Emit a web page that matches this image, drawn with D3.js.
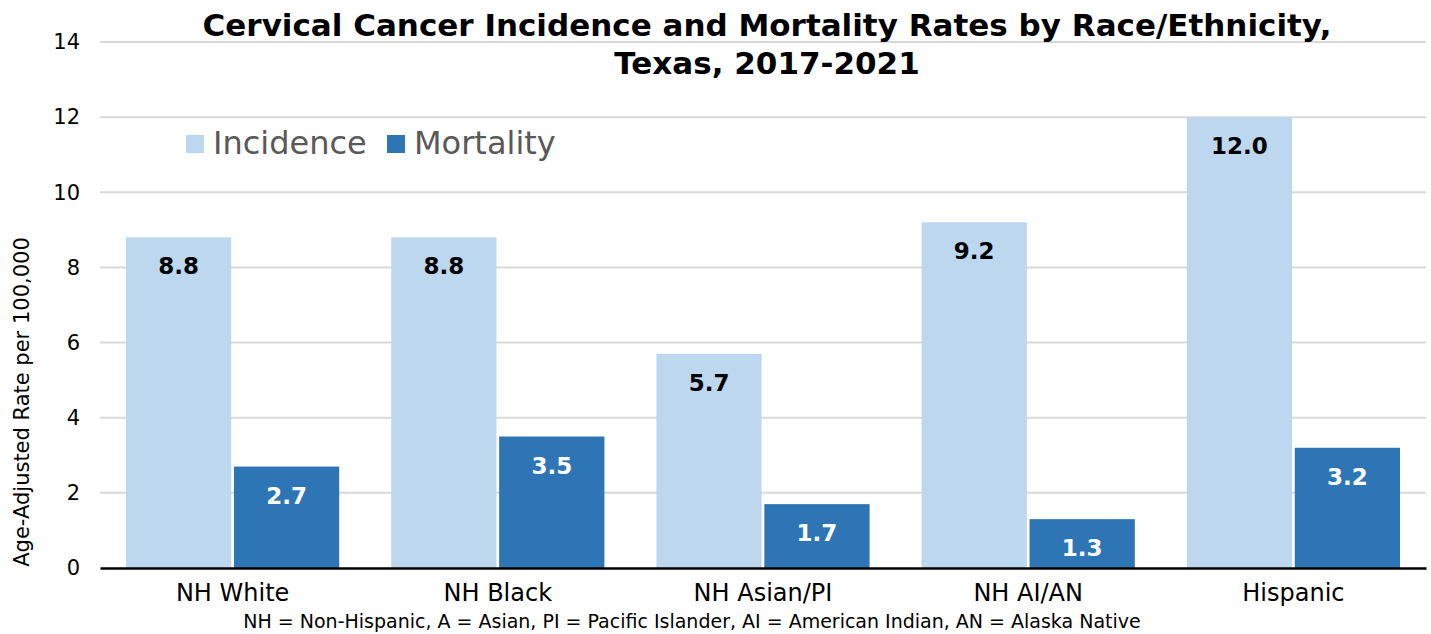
<!DOCTYPE html>
<html>
<head>
<meta charset="utf-8">
<script src="https://cdn.jsdelivr.net/npm/d3@7"></script>
<style>
  body { margin: 0; background: #fff; }
  text { font-family: "DejaVu Sans", Verdana, sans-serif; }
</style>
</head>
<body>
<div id="chart"></div>
<script>
const width = 1431;
const height = 634;

// data
const groups = ["NH White", "NH Black", "NH Asian/PI", "NH AI/AN", "Hispanic"];
const seriesNames = ["Incidence", "Mortality"];
const incidence = [8.8, 8.8, 5.7, 9.2, 12.0];
const mortality = [2.7, 3.5, 1.7, 1.3, 3.2];
const yTicks = [0, 2, 4, 6, 8, 10, 12, 14];

const colors = {"Incidence": "#bdd7ee", "Mortality": "#2e75b6"};
const labelColors = {"Incidence": "#000", "Mortality": "#fff"};

const margin = {top: 42, left: 100, bottom: 66, right: 5};

const svg = d3.select("#chart").append("svg").attr("width", width).attr("height", height);

const xScale = d3.scaleBand()
    .domain(groups)
    .range([margin.left, width - margin.right])
    .paddingInner(0)
    .paddingOuter(0);

const xInner = d3.scaleBand()
    .domain(seriesNames)
    .range([26, xScale.bandwidth() - 26])
    .paddingInner(0.025);

const yScale = d3.scaleLinear()
    .domain([0, 14])
    .range([height - margin.bottom, margin.top]);

// gridlines
svg.append("g")
    .selectAll("line")
    .data(yTicks.filter(d => d > 0))
    .join("line")
    .attr("x1", margin.left)
    .attr("x2", width - margin.right)
    .attr("y1", d => yScale(d))
    .attr("y2", d => yScale(d))
    .attr("stroke", "#d9d9d9")
    .attr("stroke-width", 2);

// y tick labels
const yAxis = d3.axisLeft(yScale).tickValues(yTicks).tickSize(0).tickPadding(20);
const yG = svg.append("g")
    .attr("transform", `translate(${margin.left},0)`)
    .call(yAxis);
yG.select(".domain").remove();
yG.selectAll("text")
    .attr("font-size", 21)
    .attr("fill", "#000")
    .style("font-family", "'DejaVu Sans', Verdana, sans-serif");

// bars
const rows = groups.map((g, i) => ({group: g, values: [
    {key: "Incidence", value: incidence[i]},
    {key: "Mortality", value: mortality[i]}
]}));

const groupG = svg.append("g")
    .selectAll("g")
    .data(rows)
    .join("g")
    .attr("transform", d => `translate(${xScale(d.group)},0)`);

groupG.selectAll("rect")
    .data(d => d.values)
    .join("rect")
    .attr("x", d => xInner(d.key))
    .attr("width", xInner.bandwidth())
    .attr("y", d => yScale(d.value))
    .attr("height", d => yScale(0) - yScale(d.value))
    .attr("fill", d => colors[d.key]);

groupG.selectAll("text.val")
    .data(d => d.values)
    .join("text")
    .attr("class", "val")
    .attr("x", d => xInner(d.key) + xInner.bandwidth() / 2)
    .attr("y", d => yScale(d.value) + 37)
    .attr("text-anchor", "middle")
    .attr("font-size", 23)
    .attr("font-weight", "bold")
    .attr("fill", d => labelColors[d.key])
    .text(d => d.value.toFixed(1));

// x axis baseline + labels
const xAxis = d3.axisBottom(xScale).tickSize(0).tickPadding(16);
const xG = svg.append("g")
    .attr("transform", `translate(0,${yScale(0)})`)
    .call(xAxis);
xG.select(".domain")
    .attr("stroke", "#000")
    .attr("stroke-width", 2.5);
xG.selectAll("text")
    .attr("font-size", 24)
    .attr("fill", "#000")
    .style("font-family", "'DejaVu Sans', Verdana, sans-serif");

// title
const title = svg.append("text")
    .attr("x", 767)
    .attr("text-anchor", "middle")
    .attr("font-size", 31)
    .attr("font-weight", "bold")
    .attr("fill", "#000");
title.append("tspan").attr("x", 767).attr("y", 36)
    .text("Cervical Cancer Incidence and Mortality Rates by Race/Ethnicity,");
title.append("tspan").attr("x", 767).attr("y", 74)
    .text("Texas, 2017-2021");

// legend
const legend = svg.append("g").attr("transform", "translate(186,135)");
const legendX = [0, 201];
seriesNames.forEach((s, i) => {
    legend.append("rect")
        .attr("x", legendX[i])
        .attr("y", 0)
        .attr("width", 18)
        .attr("height", 18)
        .attr("fill", colors[s]);
    legend.append("text")
        .attr("x", legendX[i] + 27)
        .attr("y", 19)
        .attr("font-size", 32)
        .attr("fill", "#595959")
        .text(s);
});

// y axis title
svg.append("text")
    .attr("transform", `translate(29,${402}) rotate(-90)`)
    .attr("text-anchor", "middle")
    .attr("font-size", 21)
    .attr("fill", "#000")
    .text("Age-Adjusted Rate per 100,000");

// footnote
svg.append("text")
    .attr("x", 692)
    .attr("y", 628)
    .attr("text-anchor", "middle")
    .attr("font-size", 19)
    .attr("fill", "#000")
    .text("NH = Non-Hispanic, A = Asian, PI = Pacific Islander, AI = American Indian, AN = Alaska Native");
</script>
</body>
</html>
